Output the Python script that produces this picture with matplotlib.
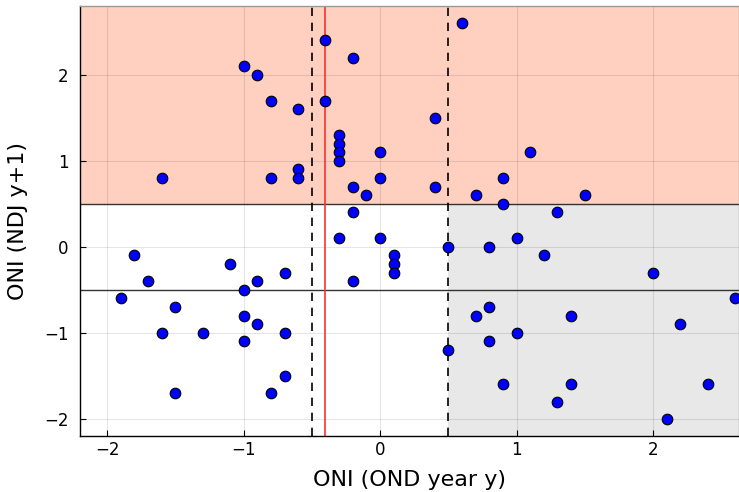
import matplotlib

matplotlib.use("Agg")
import matplotlib.pyplot as plt

# ONI in OND of year y vs ONI in NDJ of year y+1
oni_ond = [
    -0.4, -0.2, -1.0, -0.9, -0.8, -0.6, -0.4, -0.3, -0.3, -0.3, -0.3, 0.0,
    -1.6, -0.8, -0.6, -0.6, 0.0, -0.2, -0.1, -0.2, -0.3, 0.0,
    0.6, 0.4, 1.1, 0.4, 0.9, 0.7, 1.5, 0.9, 1.3, 1.0, 0.5, 0.8,
    0.1, 0.1, 0.1, -1.8, -1.1, -0.7, -1.7, -0.9, -0.2, -1.0, -1.9, -1.5,
    -1.0, -0.9, -1.6, -1.3, -0.7, -1.0, -0.7, -1.5, -0.8,
    1.2, 2.0, 2.6, 0.8, 0.7, 1.4, 2.2, 1.0, 0.8, 0.5, 0.9, 1.4, 2.4, 1.3, 2.1,
]
oni_ndj_next = [
    2.4, 2.2, 2.1, 2.0, 1.7, 1.6, 1.7, 1.3, 1.2, 1.1, 1.0, 1.1,
    0.8, 0.8, 0.9, 0.8, 0.8, 0.7, 0.6, 0.4, 0.1, 0.1,
    2.6, 1.5, 1.1, 0.7, 0.8, 0.6, 0.6, 0.5, 0.4, 0.1, 0.0, 0.0,
    -0.1, -0.2, -0.3, -0.1, -0.2, -0.3, -0.4, -0.4, -0.4, -0.5, -0.6, -0.7,
    -0.8, -0.9, -1.0, -1.0, -1.0, -1.1, -1.5, -1.7, -1.7,
    -0.1, -0.3, -0.6, -0.7, -0.8, -0.8, -0.9, -1.0, -1.1, -1.2, -1.6, -1.6, -1.6, -1.8, -2.0,
]

x_thresholds = [-0.5, 0.5]
y_thresholds = [-0.5, 0.5]
red_line_x = -0.4
xlim = (-2.2, 2.63)
ylim = (-2.2, 2.8)

fig = plt.figure(figsize=(7.39, 4.92), dpi=100)
ax = fig.add_axes([0.108, 0.114, 0.892, 0.874])

# shaded regions
ax.axhspan(y_thresholds[1], ylim[1], color="#ffd0c0", zorder=0, lw=0)
ax.fill_between([x_thresholds[1], xlim[1]], ylim[0], y_thresholds[1],
                color="#e8e8e8", zorder=0, lw=0)

ax.grid(True, color="#000000", alpha=0.1, lw=0.8, zorder=1)

for yv in y_thresholds:
    ax.axhline(yv, color="#333333", lw=1.0, zorder=2)
for xv in x_thresholds:
    ax.axvline(xv, color="black", lw=1.2, ls=(0, (5, 4)), zorder=2)
ax.axvline(red_line_x, color="#ff3030", lw=1.2, zorder=2)

ax.scatter(oni_ond, oni_ndj_next, s=58, c="#0000ff", edgecolors="black",
           linewidths=0.8, zorder=3, clip_on=True)

ax.set_xlim(*xlim)
ax.set_ylim(*ylim)
ax.set_xticks([-2, -1, 0, 1, 2])
ax.set_yticks([-2, -1, 0, 1, 2])
ax.set_xticklabels(["\u22122", "\u22121", "0", "1", "2"])
ax.set_yticklabels(["\u22122", "\u22121", "0", "1", "2"])
ax.tick_params(direction="in", length=4, labelsize=12, width=0.8)
ax.tick_params(axis="y", pad=8)
ax.set_xlabel("ONI (OND year y)", fontsize=16, labelpad=8)
ax.set_ylabel("ONI (NDJ y+1)", fontsize=16, labelpad=12)
for side in ["left", "bottom"]:
    ax.spines[side].set_color("black")
    ax.spines[side].set_linewidth(1.0)
for side in ["top", "right"]:
    ax.spines[side].set_color("#999999")
    ax.spines[side].set_linewidth(1.0)

fig.savefig("out.png", dpi=100)
